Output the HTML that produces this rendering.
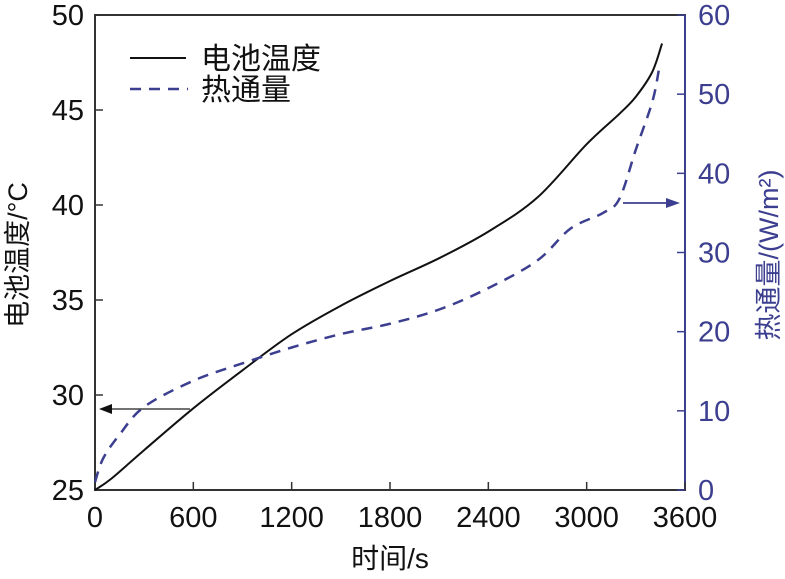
<!DOCTYPE html>
<html><head><meta charset="utf-8"><style>
html,body{margin:0;padding:0;background:#fff;}
svg{display:block;}
text{font-family:"Liberation Sans","Noto Sans CJK SC",sans-serif;}
</style></head><body>
<svg id="chart" width="785" height="579" viewBox="0 0 785 579" xmlns="http://www.w3.org/2000/svg">
<g id="axes"></g><g id="series"></g>
</svg>
<script>
const timeTicks=[0,600,1200,1800,2400,3000,3600];
const tempTicks=[25,30,35,40,45,50];
const fluxTicks=[0,10,20,30,40,50,60];
const tempTime=[0,100,300,600,900,1200,1500,1800,2100,2400,2700,3000,3200,3300,3400,3460];
const tempValues=[25,25.6,27.1,29.3,31.3,33.2,34.7,36.0,37.2,38.6,40.4,43.2,44.8,45.7,47.0,48.5];
const fluxTime=[0,50,150,300,600,900,1200,1500,1800,2100,2400,2700,2900,3100,3200,3300,3400,3440];
const fluxValues=[1,4,7,10.5,13.8,16,18,19.7,21,22.8,25.5,29,33,35,36.8,43,49,53];

const L=95,R=685,T=15,B=490,BLUE="#3c3f8f";
const X=t=>L+(t-0)/(3600-0)*(R-L);
const YT=v=>B-(v-25)/(50-25)*(B-T);
const YF=v=>B-(v-0)/(60-0)*(B-T);
const NS="http://www.w3.org/2000/svg";
function mk(tag,attrs,parent,txt){const e=document.createElementNS(NS,tag);for(const k in attrs)e.setAttribute(k,attrs[k]);if(txt!==undefined)e.textContent=txt;parent.appendChild(e);return e;}
const ax=document.getElementById('axes'),se=document.getElementById('series');

let e;
e=mk('rect',{x:L,y:T,width:R-L,height:B-T,fill:'none',stroke:'#333',"stroke-width":2},ax);


e=mk('line',{x1:R,y1:T,x2:R,y2:B,stroke:BLUE,"stroke-width":2},ax);



timeTicks.forEach(t=>{
  e=mk('line',{x1:X(t),y1:B,x2:X(t),y2:B-8,stroke:'#333',"stroke-width":1.5},ax);
  
  
  e=mk('text',{x:X(t),y:B+37,"text-anchor":"middle","font-size":29,fill:'#111'},ax,String(t));
  
  
});
tempTicks.forEach(v=>{
  e=mk('line',{x1:L,y1:YT(v),x2:L+8,y2:YT(v),stroke:'#333',"stroke-width":1.5},ax);
  
  
  e=mk('text',{x:L-11,y:YT(v)+10,"text-anchor":"end","font-size":29,fill:'#111'},ax,String(v));
  
  
});
fluxTicks.forEach(v=>{
  e=mk('line',{x1:R,y1:YF(v),x2:R-8,y2:YF(v),stroke:BLUE,"stroke-width":1.5},ax);
  
  
  e=mk('text',{x:R+13,y:YF(v)+10,"text-anchor":"start","font-size":29,fill:BLUE},ax,String(v));
  
  
});
e=mk('text',{x:390,y:568,"text-anchor":"middle","font-size":28,fill:'#111'},ax,'时间/s');


e=mk('text',{x:0,y:0,transform:'translate(27,255) rotate(-90)',"text-anchor":"middle","font-size":27,fill:'#111'},ax,'电池温度/°C');


e=mk('text',{x:0,y:0,transform:'translate(778,255) rotate(-90)',"text-anchor":"middle","font-size":27,fill:BLUE},ax,'热通量/(W/m²)');



function smooth(pts){let d=`M${pts[0][0]},${pts[0][1]}`;for(let i=0;i<pts.length-1;i++){const p0=pts[Math.max(0,i-1)],p1=pts[i],p2=pts[i+1],p3=pts[Math.min(pts.length-1,i+2)];const c1=[p1[0]+(p2[0]-p0[0])/6,p1[1]+(p2[1]-p0[1])/6],c2=[p2[0]-(p3[0]-p1[0])/6,p2[1]-(p3[1]-p1[1])/6];d+=` C${c1[0]},${c1[1]} ${c2[0]},${c2[1]} ${p2[0]},${p2[1]}`;}return d;}
e=mk('path',{d:smooth(tempTime.map((t,i)=>[X(t),YT(tempValues[i])])),fill:'none',stroke:'#111',"stroke-width":2},se);


e=mk('path',{d:smooth(fluxTime.map((t,i)=>[X(t),YF(fluxValues[i])])),fill:'none',stroke:BLUE,"stroke-width":2.5,"stroke-dasharray":"11 8"},se);



e=mk('line',{x1:190,y1:409,x2:110,y2:409,stroke:'#444',"stroke-width":1.5},se);


e=mk('polygon',{points:'99,409 112,404 112,414',fill:'#111'},se);


e=mk('line',{x1:623,y1:203,x2:668,y2:203,stroke:BLUE,"stroke-width":1.8},se);


e=mk('polygon',{points:'680,203 666,198 666,208',fill:BLUE},se);



e=mk('line',{x1:130,y1:58,x2:186,y2:58,stroke:'#111',"stroke-width":2},se);


e=mk('text',{x:201,y:69,"font-size":30,fill:'#111'},se,'电池温度');


e=mk('line',{x1:130,y1:89,x2:188,y2:89,stroke:BLUE,"stroke-width":2.5,"stroke-dasharray":"11 8"},se);


e=mk('text',{x:201,y:100,"font-size":30,fill:'#111'},se,'热通量');


</script>
</body></html>
